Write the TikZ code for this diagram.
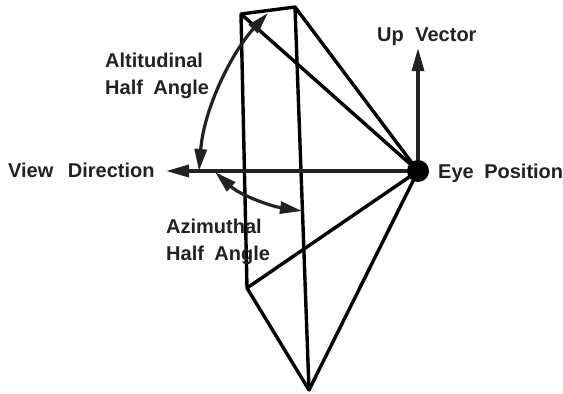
\documentclass[tikz,border=0pt]{standalone}
\usepackage{fontspec}
\setmainfont{Liberation Sans}
\usetikzlibrary{arrows.meta}
\definecolor{ink}{HTML}{222222}
\newcommand{\wgap}{\hspace{10.5pt}}
\tikzset{
  edge/.style={line width=3.4pt,black,line join=round},
  vec/.style={line width=3.4pt,ink,-{Triangle[length=23pt,width=12pt,fill=ink]}},
  arcv/.style={line width=3.2pt,ink},
  tip2/.style={{Triangle[length=22pt,width=12pt,fill=ink]}-{Triangle[length=22pt,width=12pt,fill=ink]}},
  lab/.style={inner sep=0pt,font=\fontsize{20}{23}\selectfont\bfseries,text=ink,anchor=base west}
}
\begin{document}
\begin{tikzpicture}[x=1pt,y=-1pt]
\useasboundingbox (0,0) rectangle (563,394);
\fill[white] (0,0) rectangle (563,394);
\coordinate (A) at (241,14);
\coordinate (B) at (295,7);
\coordinate (C) at (247,288);
\coordinate (D) at (309,390);
\coordinate (E) at (418,171);
\coordinate (U) at (418,48);
\coordinate (V) at (166,171);
\coordinate (a1) at (199,171);
\coordinate (a2) at (268,13);
\coordinate (z1) at (215,172);
\coordinate (z2) at (302,211);
\draw[edge] (A) -- (B) -- (D) -- (C) -- cycle;
\draw[edge] (A) -- (E) (B) -- (E) (C) -- (E) (D) -- (E);
\draw[vec] (E) -- (U);
\draw[vec] (E) -- (V);
\draw[arcv,tip2] (a1) .. controls (204,108) and (232,52) .. (a2);
\draw[arcv,tip2] (z1) .. controls (240,195) and (270,206) .. (z2);
\node[circle,fill=black,minimum size=22pt,inner sep=0pt] (eye) at (E) {};
\node[lab] (t1) at (8,177) {View\wgap\hspace{4pt}Direction};
\node[lab] (t2) at (438,178) {Eye\wgap Position};
\node[lab] (t3) at (377,41) {Up\wgap\hspace{1pt}Vector};
\node[lab] (t4) at (105,67) {Altitudinal};
\node[lab] (t5) at (105,94) {Half\wgap Angle};
\node[lab] (t6) at (166,233) {Azimuthal};
\node[lab] (t7) at (166,260) {Half\wgap Angle};
\end{tikzpicture}
\end{document}
